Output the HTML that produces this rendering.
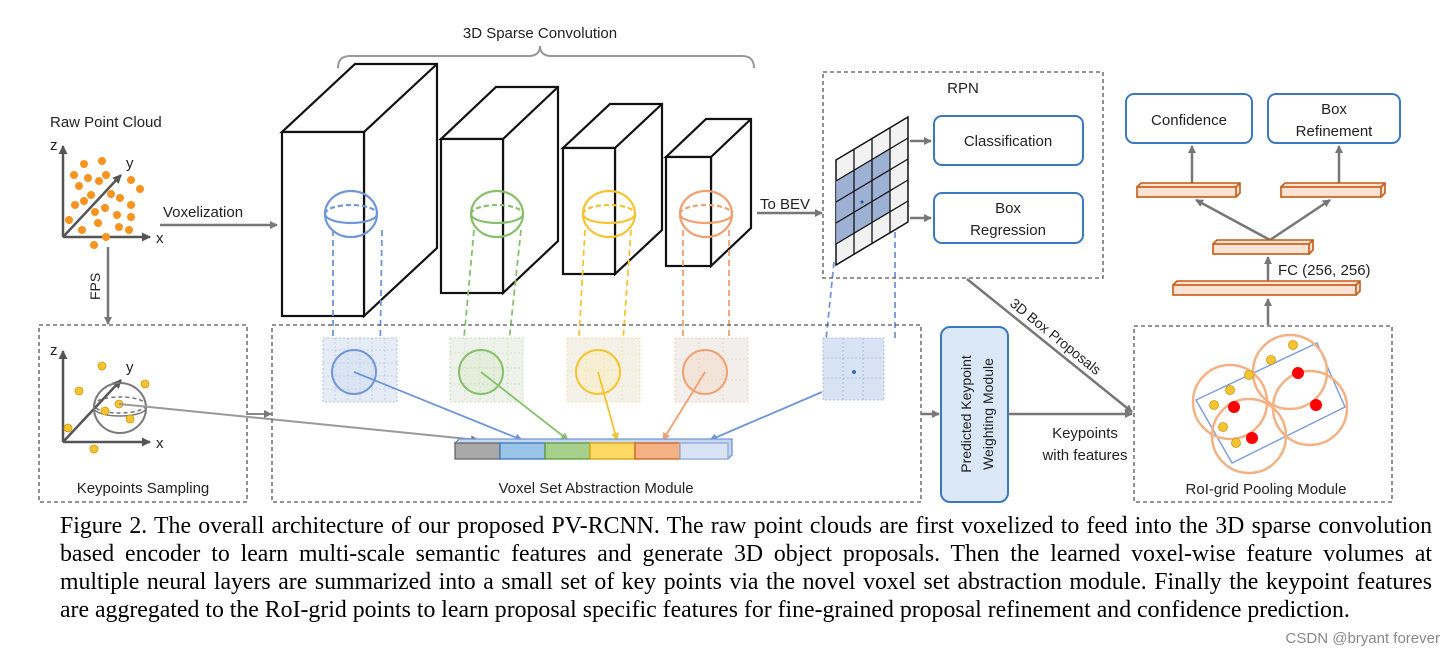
<!DOCTYPE html>
<html><head><meta charset="utf-8"><style>
body{margin:0;background:#fff;width:1454px;height:661px;overflow:hidden;position:relative;font-family:"Liberation Sans",sans-serif}
.cap{position:absolute;left:60px;top:512px;width:1372px;font-family:"Liberation Serif",serif;font-size:23.8px;line-height:28px;color:#000}
.cap div{text-align:justify;text-align-last:justify;white-space:nowrap}
.cap div.l{text-align-last:left}
.wm{position:absolute;right:14px;top:630px;font-size:15px;color:#888}
</style></head><body>
<svg width="1454" height="661" style="position:absolute;left:0;top:0" font-family="Liberation Sans, sans-serif">
<defs>
<marker id="ag" markerWidth="8" markerHeight="8" refX="7" refY="4" orient="auto" markerUnits="userSpaceOnUse"><path d="M0,0 L8,4 L0,8z" fill="#777"/></marker>
<marker id="ab" markerWidth="8" markerHeight="8" refX="7" refY="4" orient="auto" markerUnits="userSpaceOnUse"><path d="M0,0 L8,4 L0,8z" fill="#6f96d8"/></marker>
<marker id="agr" markerWidth="8" markerHeight="8" refX="7" refY="4" orient="auto" markerUnits="userSpaceOnUse"><path d="M0,0 L8,4 L0,8z" fill="#86c06a"/></marker>
<marker id="ay" markerWidth="8" markerHeight="8" refX="7" refY="4" orient="auto" markerUnits="userSpaceOnUse"><path d="M0,0 L8,4 L0,8z" fill="#f5c430"/></marker>
<marker id="ao" markerWidth="8" markerHeight="8" refX="7" refY="4" orient="auto" markerUnits="userSpaceOnUse"><path d="M0,0 L8,4 L0,8z" fill="#f0a070"/></marker>
<marker id="ak" markerWidth="9" markerHeight="9" refX="8" refY="4.5" orient="auto" markerUnits="userSpaceOnUse"><path d="M0,0 L9,4.5 L0,9z" fill="#555"/></marker>
</defs>

<text x="540" y="38" font-size="15" text-anchor="middle" fill="#222">3D Sparse Convolution</text>
<path d="M338,68 Q338,56 350,56 L528,56 Q540,56 540,46 Q540,56 552,56 L742,56 Q754,56 754,68" fill="none" stroke="#999" stroke-width="2"/>

<text x="50" y="127" font-size="15" fill="#222">Raw Point Cloud</text>
<g stroke="#555" stroke-width="2.5" fill="none">
<line x1="63" y1="237" x2="63" y2="146" marker-end="url(#ak)"/>
<line x1="63" y1="237" x2="150" y2="237" marker-end="url(#ak)"/>
<line x1="63" y1="237" x2="121" y2="175" marker-end="url(#ak)"/>
<line x1="63" y1="442" x2="63" y2="351" marker-end="url(#ak)"/>
<line x1="63" y1="442" x2="150" y2="442" marker-end="url(#ak)"/>
<line x1="63" y1="442" x2="121" y2="380" marker-end="url(#ak)"/>
</g>
<g font-size="15" fill="#222"><text x="50" y="150">z</text><text x="126" y="168">y</text><text x="156" y="243">x</text>
<text x="50" y="355">z</text><text x="126" y="372">y</text><text x="156" y="448">x</text></g>
<g fill="#f7931e">
<circle cx="84" cy="164" r="4"/><circle cx="102" cy="161" r="4"/><circle cx="74" cy="175" r="4"/><circle cx="88" cy="178" r="4"/><circle cx="99" cy="181" r="4"/><circle cx="106" cy="175" r="4"/><circle cx="79" cy="186" r="4"/><circle cx="131" cy="180" r="4"/><circle cx="140" cy="189" r="4"/><circle cx="91" cy="195" r="4"/><circle cx="84" cy="201" r="4"/><circle cx="111" cy="194" r="4"/><circle cx="120" cy="198" r="4"/><circle cx="75" cy="205" r="4"/><circle cx="95" cy="212" r="4"/><circle cx="105" cy="208" r="4"/><circle cx="131" cy="205" r="4"/><circle cx="117" cy="215" r="4"/><circle cx="131" cy="217" r="4"/><circle cx="69" cy="220" r="4"/><circle cx="98" cy="223" r="4"/><circle cx="82" cy="230" r="4"/><circle cx="119" cy="227" r="4"/><circle cx="129" cy="230" r="4"/><circle cx="106" cy="237" r="4"/><circle cx="94" cy="245" r="4"/>
</g>
<line x1="160" y1="225" x2="277" y2="225" stroke="#777" stroke-width="2.5" marker-end="url(#ag)"/>
<text x="163" y="217" font-size="15" fill="#222">Voxelization</text>
<line x1="108" y1="247" x2="108" y2="324" stroke="#777" stroke-width="2.5" marker-end="url(#ag)"/>
<text transform="translate(100,300) rotate(-90)" font-size="14" fill="#222">FPS</text>

<rect x="39" y="325" width="208" height="177" fill="none" stroke="#555" stroke-width="1.3" stroke-dasharray="4,3"/>
<ellipse cx="120" cy="408" rx="26" ry="25" fill="none" stroke="#777" stroke-width="2"/>
<ellipse cx="120" cy="405" rx="26" ry="8" fill="none" stroke="#777" stroke-width="1.5" stroke-dasharray="4,3"/>
<path d="M94,408 A26,8 0 0 0 146,408" fill="none" stroke="#777" stroke-width="1.5"/>
<g fill="#f5c430" stroke="#c89a10" stroke-width="0.8">
<circle cx="102" cy="366" r="4"/><circle cx="79" cy="391" r="4"/><circle cx="145" cy="384" r="4"/><circle cx="119" cy="404" r="4"/><circle cx="105" cy="411" r="4"/><circle cx="130" cy="419" r="4"/><circle cx="68" cy="428" r="4"/><circle cx="94" cy="449" r="4"/>
</g>
<text x="143" y="493" font-size="15" text-anchor="middle" fill="#222">Keypoints Sampling</text>
<line x1="119" y1="404" x2="478" y2="440" stroke="#999" stroke-width="2" marker-end="url(#ag)"/>
<line x1="247" y1="414" x2="271" y2="414" stroke="#888" stroke-width="2" marker-end="url(#ag)"/>

<g fill="#fff" stroke="#111" stroke-width="2.2" stroke-linejoin="miter">
<path d="M282,132 L355,64 L437,64 L437,248 L364,316 L364,132 Z"/><rect x="282" y="132" width="82" height="184"/><line x1="364" y1="132" x2="437" y2="64"/>
<path d="M441,139 L496,87 L558,87 L558,241 L503,293 L503,139 Z"/><rect x="441" y="139" width="62" height="154"/><line x1="503" y1="139" x2="558" y2="87"/>
<path d="M563,148 L610,104 L662,104 L662,230 L615,274 L615,148 Z"/><rect x="563" y="148" width="52" height="126"/><line x1="615" y1="148" x2="662" y2="104"/>
<path d="M666,157 L706,119 L751,119 L751,228 L711,266 L711,157 Z"/><rect x="666" y="157" width="45" height="109"/><line x1="711" y1="157" x2="751" y2="119"/>
</g>
<g fill="none" stroke-width="2.2">
<g stroke="#6f96d8"><ellipse cx="351" cy="214" rx="26" ry="23"/><path d="M325,214 A26,9 0 0 0 377,214"/><path d="M325,214 A26,9 0 0 1 377,214" stroke-dasharray="5,3"/></g>
<g stroke="#86c06a"><ellipse cx="497" cy="214" rx="26" ry="23"/><path d="M471,214 A26,9 0 0 0 523,214"/><path d="M471,214 A26,9 0 0 1 523,214" stroke-dasharray="5,3"/></g>
<g stroke="#f5c430"><ellipse cx="609" cy="214" rx="26" ry="23"/><path d="M583,214 A26,9 0 0 0 635,214"/><path d="M583,214 A26,9 0 0 1 635,214" stroke-dasharray="5,3"/></g>
<g stroke="#f0a070"><ellipse cx="706" cy="214" rx="26" ry="23"/><path d="M680,214 A26,9 0 0 0 732,214"/><path d="M680,214 A26,9 0 0 1 732,214" stroke-dasharray="5,3"/></g>
</g>
<g stroke-width="1.8" stroke-dasharray="6,4" fill="none">
<g stroke="#6f96d8"><line x1="333" y1="230" x2="333" y2="356"/><line x1="382" y1="230" x2="380" y2="356"/></g>
<g stroke="#86c06a"><line x1="474" y1="230" x2="462" y2="360"/><line x1="521" y1="230" x2="507" y2="360"/></g>
<g stroke="#f5c430"><line x1="585" y1="230" x2="578" y2="355"/><line x1="631" y1="230" x2="622" y2="355"/></g>
<g stroke="#f0a070"><line x1="683" y1="230" x2="683" y2="355"/><line x1="729" y1="230" x2="729" y2="355"/></g>
<g stroke="#6f96d8"><line x1="834" y1="262" x2="826" y2="340"/><line x1="895" y1="222" x2="895" y2="340"/></g>
</g>

<rect x="272" y="325" width="649" height="177" fill="none" stroke="#555" stroke-width="1.3" stroke-dasharray="4,3"/>
<text x="596" y="493" font-size="15" text-anchor="middle" fill="#222">Voxel Set Abstraction Module</text>
<g stroke-width="0.8" stroke-dasharray="2,2">
<rect x="323" y="338" width="74" height="64" fill="#e6ecf5" stroke="#9cb5e0"/>
<path d="M335,338V402M348,338V402M360,338V402M372,338V402M385,338V402M323,350H397M323,363H397M323,376H397M323,389H397" stroke="#b5c8ea"/>
<rect x="450" y="338" width="73" height="64" fill="#eef2ea" stroke="#b6d8a6"/>
<path d="M465,338V402M480,338V402M494,338V402M508,338V402M450,353H523M450,368H523M450,384H523" stroke="#c8e2ba"/>
<rect x="567" y="338" width="73" height="64" fill="#f3f1e8" stroke="#f5dc90"/>
<path d="M586,338V402M604,338V402M622,338V402M567,354H640M567,370H640M567,386H640" stroke="#f5e2a8"/>
<rect x="675" y="338" width="73" height="64" fill="#f2eeeb" stroke="#f0c4a8"/>
<path d="M699,338V402M723,338V402M675,359H748M675,380H748" stroke="#f0cdb5"/>
<rect x="823" y="338" width="61" height="62" fill="#d8e4f3" stroke="#9cb5e0"/>
<path d="M843,338V400M863,338V400M823,358H884M823,378H884" stroke="#9cb5e0"/>
</g>
<g stroke-width="2" fill-opacity="0.35">
<circle cx="354" cy="372" r="22" fill="#c6d7f2" stroke="#6f96d8"/>
<circle cx="481" cy="372" r="22" fill="#d3e8c6" stroke="#86c06a"/>
<circle cx="598" cy="372" r="22" fill="#fbeab0" stroke="#f5c430"/>
<circle cx="705" cy="372" r="22" fill="#f5d0ba" stroke="#f0a070"/>
</g>
<circle cx="854" cy="372" r="2" fill="#3c66b8"/>
<g stroke-width="1.8">
<line x1="354" y1="372" x2="522" y2="440" stroke="#6f96d8" marker-end="url(#ab)"/>
<line x1="481" y1="372" x2="568" y2="440" stroke="#86c06a" marker-end="url(#agr)"/>
<line x1="598" y1="372" x2="617" y2="440" stroke="#f5c430" marker-end="url(#ay)"/>
<line x1="705" y1="372" x2="663" y2="440" stroke="#f0a070" marker-end="url(#ao)"/>
<line x1="822" y1="392" x2="710" y2="440" stroke="#6f96d8" marker-end="url(#ab)"/>
</g>
<g stroke-width="1.3">
<path d="M455,443 L459,439 L732,439 L732,455 L728,459Z" fill="#c8d6ee" stroke="#6f96d8"/>
<rect x="455" y="443" width="45" height="16" fill="#a9a9a9" stroke="#666"/>
<rect x="500" y="443" width="45" height="16" fill="#9cc3e8" stroke="#3c78c0"/>
<rect x="545" y="443" width="45" height="16" fill="#a8d08d" stroke="#5f9a40"/>
<rect x="590" y="443" width="45" height="16" fill="#ffd966" stroke="#d6a300"/>
<rect x="635" y="443" width="45" height="16" fill="#f4b183" stroke="#d06020"/>
<rect x="680" y="443" width="48" height="16" fill="#dae3f3" stroke="#8fabdc"/>
</g>

<line x1="757" y1="213" x2="822" y2="213" stroke="#777" stroke-width="2.5" marker-end="url(#ag)"/>
<text x="760" y="209" font-size="15" fill="#222">To BEV</text>
<rect x="823" y="72" width="280" height="206" fill="none" stroke="#555" stroke-width="1.3" stroke-dasharray="4,3"/>
<text x="963" y="93" font-size="15" text-anchor="middle" fill="#222">RPN</text>
<g>
<path d="M836,160 L908,117 L908,222 L836,265Z" fill="#f2f2f2" stroke="#111" stroke-width="1.5"/>
<path d="M836,181 L890,149 L890,212 L836,244Z" fill="#8ea6cf" fill-opacity="0.85"/>
<g stroke="#111" stroke-width="1.3">
<line x1="854" y1="149" x2="854" y2="254"/><line x1="872" y1="138" x2="872" y2="243"/><line x1="890" y1="128" x2="890" y2="233"/>
<line x1="836" y1="181" x2="908" y2="138"/><line x1="836" y1="202" x2="908" y2="159"/><line x1="836" y1="223" x2="908" y2="180"/><line x1="836" y1="244" x2="908" y2="201"/>
</g>
<circle cx="862" cy="202" r="1.5" fill="#2050a0"/>
</g>
<line x1="910" y1="141" x2="931" y2="141" stroke="#777" stroke-width="2.5" marker-end="url(#ag)"/>
<line x1="910" y1="218" x2="931" y2="218" stroke="#777" stroke-width="2.5" marker-end="url(#ag)"/>
<rect x="934" y="116" width="149" height="49" rx="8" fill="#fff" stroke="#3c78c0" stroke-width="2"/>
<text x="1008" y="146" font-size="15" text-anchor="middle" fill="#222">Classification</text>
<rect x="934" y="193" width="149" height="50" rx="8" fill="#fff" stroke="#3c78c0" stroke-width="2"/>
<text x="1008" y="213" font-size="15" text-anchor="middle" fill="#222">Box</text>
<text x="1008" y="235" font-size="15" text-anchor="middle" fill="#222">Regression</text>

<line x1="921" y1="414" x2="939" y2="414" stroke="#777" stroke-width="2.5" marker-end="url(#ag)"/>
<rect x="941" y="327" width="67" height="175" rx="9" fill="#dae8f7" stroke="#3c78c0" stroke-width="2"/>
<text transform="translate(971,414) rotate(-90)" font-size="14" text-anchor="middle" fill="#222">Predicted Keypoint</text>
<text transform="translate(993,414) rotate(-90)" font-size="14" text-anchor="middle" fill="#222">Weighting Module</text>
<line x1="1008" y1="414" x2="1132" y2="414" stroke="#777" stroke-width="2.5" marker-end="url(#ag)"/>
<text x="1085" y="438" font-size="15" text-anchor="middle" fill="#222">Keypoints</text>
<text x="1085" y="460" font-size="15" text-anchor="middle" fill="#222">with features</text>
<line x1="967" y1="279" x2="1132" y2="412" stroke="#777" stroke-width="2.5" marker-end="url(#ag)"/>
<text transform="translate(1009,305) rotate(39)" font-size="14" fill="#222">3D Box Proposals</text>

<rect x="1134" y="326" width="258" height="176" fill="none" stroke="#555" stroke-width="1.3" stroke-dasharray="4,3"/>
<text x="1266" y="494" font-size="15" text-anchor="middle" fill="#222">RoI-grid Pooling Module</text>
<path d="M1196,400 L1317,343 L1345,407 L1232,463Z" fill="none" stroke="#7fa0dc" stroke-width="1.5"/>
<g fill="none" stroke="#f4b183" stroke-width="2.5">
<circle cx="1230" cy="402" r="37"/><circle cx="1290" cy="372" r="37"/><circle cx="1310" cy="408" r="37"/><circle cx="1249" cy="436" r="37"/>
</g>
<g fill="#f00"><circle cx="1234" cy="407" r="6"/><circle cx="1298" cy="373" r="6"/><circle cx="1316" cy="405" r="6"/><circle cx="1252" cy="438" r="6"/></g>
<g fill="#f5c430" stroke="#c89a10" stroke-width="0.8">
<circle cx="1293" cy="345" r="4.5"/><circle cx="1271" cy="360" r="4.5"/><circle cx="1249" cy="375" r="4.5"/><circle cx="1230" cy="390" r="4.5"/><circle cx="1214" cy="405" r="4.5"/><circle cx="1223" cy="427" r="4.5"/><circle cx="1236" cy="443" r="4.5"/>
</g>

<g stroke="#777" stroke-width="2.5">
<line x1="1268" y1="325" x2="1268" y2="299" marker-end="url(#ag)"/>
<line x1="1268" y1="281" x2="1268" y2="257" marker-end="url(#ag)"/>
<line x1="1270" y1="240" x2="1196" y2="200" marker-end="url(#ag)"/>
<line x1="1270" y1="240" x2="1330" y2="200" marker-end="url(#ag)"/>
<line x1="1192" y1="183" x2="1192" y2="146" marker-end="url(#ag)"/>
<line x1="1339" y1="183" x2="1339" y2="146" marker-end="url(#ag)"/>
</g>
<g fill="#fbe2d5" stroke="#c55a11" stroke-width="1.6">
<path d="M1137,187 L1141,183 L1240,183 L1240,193 L1236,197 M1236,187 L1240,183" />
<rect x="1137" y="187" width="99" height="10"/>
<path d="M1281,187 L1285,183 L1385,183 L1385,193 L1381,197 M1381,187 L1385,183"/>
<rect x="1281" y="187" width="100" height="10"/>
<path d="M1213,244 L1217,240 L1313,240 L1313,250 L1309,254 M1309,244 L1313,240"/>
<rect x="1213" y="244" width="96" height="10"/>
<path d="M1173,285 L1177,281 L1360,281 L1360,291 L1356,295 M1356,285 L1360,281"/>
<rect x="1173" y="285" width="183" height="10"/>
</g>
<text x="1278" y="275" font-size="15" fill="#222">FC (256, 256)</text>
<rect x="1126" y="94" width="126" height="49" rx="8" fill="#fff" stroke="#3c78c0" stroke-width="2"/>
<text x="1189" y="125" font-size="15" text-anchor="middle" fill="#222">Confidence</text>
<rect x="1268" y="94" width="132" height="49" rx="8" fill="#fff" stroke="#3c78c0" stroke-width="2"/>
<text x="1334" y="114" font-size="15" text-anchor="middle" fill="#222">Box</text>
<text x="1334" y="136" font-size="15" text-anchor="middle" fill="#222">Refinement</text>
</svg>
<div class="cap">
<div>Figure 2. The overall architecture of our proposed PV-RCNN. The raw point clouds are first voxelized to feed into the 3D sparse convolution</div>
<div>based encoder to learn multi-scale semantic features and generate 3D object proposals. Then the learned voxel-wise feature volumes at</div>
<div>multiple neural layers are summarized into a small set of key points via the novel voxel set abstraction module. Finally the keypoint features</div>
<div class="l">are aggregated to the RoI-grid points to learn proposal specific features for fine-grained proposal refinement and confidence prediction.</div>
</div>
<div class="wm">CSDN @bryant forever</div>
</body></html>
